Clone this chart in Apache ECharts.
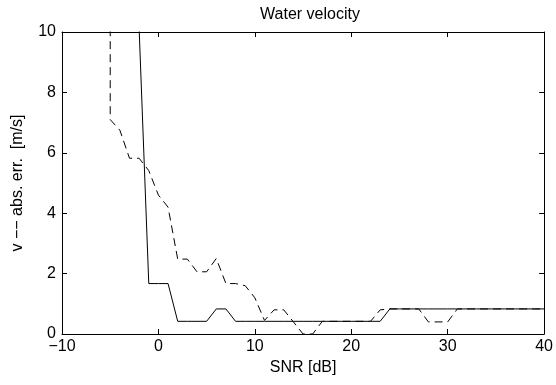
<!DOCTYPE html>
<html>
<head>
<meta charset="utf-8">
<script src="https://cdn.jsdelivr.net/npm/echarts@6/dist/echarts.min.js"></script>
<style>
html,body{margin:0;padding:0;background:#fff;}
#chart{width:556px;height:385px;}
</style>
</head>
<body>
<div id="chart"></div>
<script>
// SNR [dB] positions and absolute errors
var snrSolid = [-5,-4,-3,-2,-1,0,1,2,3,4,5,6,7,8,9,10,11,12,13,14,15,16,17,18,19,20,21,22,23,24,25,26,27,28,29,30,31,32,33,34,35,36,37,38,39,40];
var errSolid = [14,13,12,10.1,1.67,1.67,1.67,0.42,0.42,0.42,0.42,0.83,0.83,0.42,0.42,0.42,0.42,0.42,0.42,0.42,0.42,0.42,0.42,0.42,0.42,0.42,0.42,0.42,0.42,0.83,0.83,0.83,0.83,0.83,0.83,0.83,0.83,0.83,0.83,0.83,0.83,0.83,0.83,0.83,0.83,0.83];
var snrDashed = [-5,-5,-4,-3,-2,-1,0,1,2,3,4,5,6,7,8,9,10,11,12,13,14,15,16,17,18,19,20,21,22,23,24,25,26,27,28,29,30,31,32,33,34,35,36,37,38,39,40];
var errDashed = [14,7.1,6.75,5.82,5.82,5.41,4.6,4.2,2.48,2.48,2.06,2.06,2.5,1.67,1.67,1.6,1.2,0.45,0.8,0.8,0.4,0,0,0.42,0.42,0.42,0.42,0.42,0.42,0.8,0.83,0.83,0.83,0.83,0.4,0.4,0.4,0.83,0.83,0.83,0.83,0.83,0.83,0.83,0.83,0.83,0.83];
var xTicks = [-10,0,10,20,30,40];
var yTicks = [0,2,4,6,8,10];
var titleText = 'Water velocity';
var xName = 'SNR [dB]';
var yName = 'v \u2212\u2212 abs. err.  [m/s]';

function pairs(xs, ys){ return xs.map(function(x,i){ return [x, ys[i]]; }); }
var font = 'Liberation Sans, Arial, Helvetica, sans-serif';
var fs = 16;
function fmt(v){ return v < 0 ? '\u2212' + Math.abs(v) : String(v); }
var lineCol = '#000';

var xBase = {
  type:'value', min:xTicks[0], max:xTicks[xTicks.length-1], interval:xTicks[1]-xTicks[0],
  axisLine:{show:true, onZero:false, lineStyle:{color:lineCol, width:1}},
  axisTick:{show:true, inside:true, length:5, lineStyle:{color:lineCol, width:1}},
  splitLine:{show:false}
};
var yBase = {
  type:'value', min:yTicks[0], max:yTicks[yTicks.length-1], interval:yTicks[1]-yTicks[0],
  axisLine:{show:true, onZero:false, lineStyle:{color:lineCol, width:1}},
  axisTick:{show:true, inside:true, length:5, lineStyle:{color:lineCol, width:1}},
  splitLine:{show:false}
};

var chart = echarts.init(document.getElementById('chart'), null, {renderer:'canvas'});
chart.setOption({
  animation:false,
  backgroundColor:'#fff',
  title:{text:titleText, left:305, top:2, textAlign:'center',
    textStyle:{fontFamily:font, fontSize:fs, fontWeight:'normal', color:'#000'}},
  grid:{left:62, right:8, top:32, bottom:51, containLabel:false},
  xAxis:[
    Object.assign({}, xBase, {position:'bottom',
      axisLabel:{show:true, formatter:fmt, color:'#000', fontFamily:font, fontSize:fs, margin:5},
      name:xName, nameLocation:'middle', nameGap:21,
      nameTextStyle:{color:'#000', fontFamily:font, fontSize:fs}}),
    Object.assign({}, xBase, {position:'top', axisLabel:{show:false}})
  ],
  yAxis:[
    Object.assign({}, yBase, {position:'left',
      axisLabel:{show:true, formatter:fmt, color:'#000', fontFamily:font, fontSize:fs, margin:6},
      name:yName, nameLocation:'middle', nameGap:36,
      nameTextStyle:{color:'#000', fontFamily:font, fontSize:fs}}),
    Object.assign({}, yBase, {position:'right', axisLabel:{show:false}})
  ],
  series:[
    {type:'line', data:pairs(snrSolid, errSolid), xAxisIndex:0, yAxisIndex:0,
      symbol:'none', clip:true, lineStyle:{color:'#000', width:1, type:'solid'}},
    {type:'line', data:pairs(snrDashed, errDashed), xAxisIndex:0, yAxisIndex:0,
      symbol:'none', clip:true, lineStyle:{color:'#000', width:1, type:[8,5]}}
  ]
});
</script>
</body>
</html>
